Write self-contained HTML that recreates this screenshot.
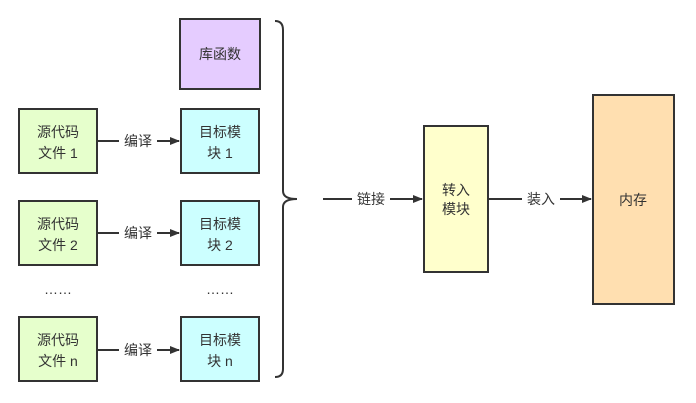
<!DOCTYPE html>
<html><head><meta charset="utf-8"><style>
html,body{margin:0;padding:0;background:#fff;}
svg{display:block;}
text{font-family:"Liberation Sans","Noto Sans CJK SC",sans-serif;font-size:14px;fill:#333;text-anchor:middle;}
</style></head><body>
<svg width="696" height="403" viewBox="0 0 696 403" xmlns="http://www.w3.org/2000/svg">
<defs><marker id="a" markerWidth="10" markerHeight="8" refX="9" refY="4" orient="auto" markerUnits="userSpaceOnUse"><path d="M0,0 L10,4 L0,8 Z" fill="#333"/></marker></defs>
<g stroke="#333" stroke-width="2">
<rect x="180" y="19" width="80" height="70" fill="#e5ccff"/>
<rect x="19" y="109" width="78" height="64" fill="#e6ffcc"/>
<rect x="19" y="201" width="78" height="64" fill="#e6ffcc"/>
<rect x="19" y="317" width="78" height="64" fill="#e6ffcc"/>
<rect x="181" y="109" width="78" height="64" fill="#ccffff"/>
<rect x="181" y="201" width="78" height="64" fill="#ccffff"/>
<rect x="181" y="317" width="78" height="64" fill="#ccffff"/>
<rect x="424" y="126" width="64" height="146" fill="#ffffcc"/>
<rect x="593" y="95" width="81" height="209" fill="#ffdfb0"/>
<path d="M275,21 Q283,21 283,30 L283,191 Q283,199 297,199 Q283,199 283,207 L283,369 Q283,377 275,377" fill="none"/>
<line x1="97" y1="141" x2="179" y2="141" marker-end="url(#a)"/>
<line x1="97" y1="233" x2="179" y2="233" marker-end="url(#a)"/>
<line x1="97" y1="350" x2="179" y2="350" marker-end="url(#a)"/>
<line x1="323" y1="199" x2="422" y2="199" marker-end="url(#a)"/>
<line x1="488" y1="199" x2="591" y2="199" marker-end="url(#a)"/>
</g>
<g fill="#fff">
<rect x="119" y="132" width="38" height="18"/>
<rect x="119" y="224" width="38" height="18"/>
<rect x="119" y="341" width="38" height="18"/>
<rect x="352" y="190" width="38" height="18"/>
<rect x="522" y="190" width="38" height="18"/>
</g>
<text x="138" y="146">编译</text>
<text x="138" y="238">编译</text>
<text x="138" y="355">编译</text>
<text x="371" y="204">链接</text>
<text x="541" y="204">装入</text>
<text x="220" y="59">库函数</text>
<text x="58" y="137">源代码</text><text x="58" y="158">文件 1</text>
<text x="58" y="229">源代码</text><text x="58" y="250">文件 2</text>
<text x="58" y="345">源代码</text><text x="58" y="366">文件 n</text>
<text x="220" y="137">目标模</text><text x="220" y="158">块 1</text>
<text x="220" y="229">目标模</text><text x="220" y="250">块 2</text>
<text x="220" y="345">目标模</text><text x="220" y="366">块 n</text>
<text x="456" y="195">转入</text><text x="456" y="214">模块</text>
<text x="633" y="205">内存</text>
<text x="58" y="294">……</text>
<text x="220" y="294">……</text>
</svg>
</body></html>
